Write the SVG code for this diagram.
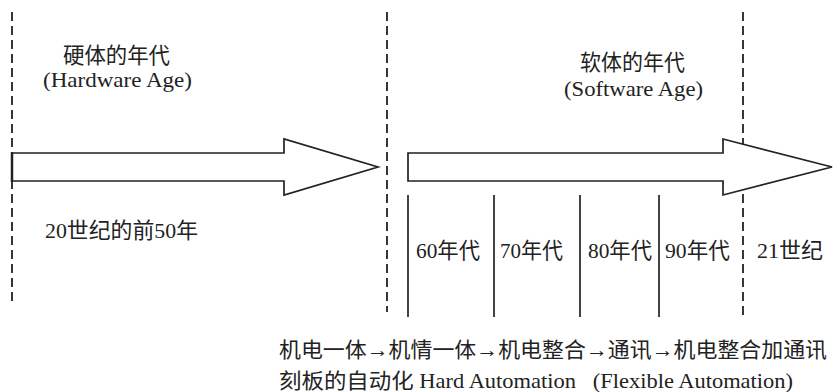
<svg xmlns="http://www.w3.org/2000/svg" width="833" height="392" viewBox="0 0 833 392">
<style>
.dash{stroke:#222;stroke-width:1.8;stroke-dasharray:9 5;fill:none}
.sol{stroke:#222;stroke-width:1.7;fill:none}
.arr{stroke:#222;stroke-width:1.7;fill:#fff;stroke-linejoin:miter}
text{font-family:"Liberation Serif","Noto Sans CJK SC",serif;fill:#222;font-size:22px}
.b{font-size:21px}
</style>
<rect width="833" height="392" fill="#fff"/>
<g id="connectors">
<line class="dash" x1="12" y1="12" x2="12" y2="305"/>
<line class="dash" x1="387" y1="12" x2="387" y2="312"/>
<line class="dash" x1="743" y1="12" x2="743" y2="317"/>
<line class="sol" x1="408" y1="195" x2="408" y2="317"/>
<line class="sol" x1="494" y1="195" x2="494" y2="317"/>
<line class="sol" x1="580" y1="195" x2="580" y2="317"/>
<line class="sol" x1="659" y1="195" x2="659" y2="317"/>
</g>
<g id="arrow-hardware">
<polygon class="arr" points="12,153 284,153 284,139 378,167 284,195 284,181 12,181"/>
<line x1="12" y1="152" x2="12" y2="182" stroke="#222" stroke-width="2.5"/>
</g>
<g id="arrow-software">
<polygon class="arr" points="408,153 723,153 723,139 832,167 723,195 723,181 408,181"/>
</g>
<g id="hardware-label">
<text x="63" y="63" textLength="107" lengthAdjust="spacingAndGlyphs">硬体的年代</text>
<text x="43" y="87" textLength="149" lengthAdjust="spacingAndGlyphs">(Hardware Age)</text>
</g>
<g id="software-label">
<text x="580" y="70" textLength="105" lengthAdjust="spacingAndGlyphs">软体的年代</text>
<text x="564" y="96" textLength="139" lengthAdjust="spacingAndGlyphs">(Software Age)</text>
</g>
<g id="first-half">
<text x="45" y="238" textLength="153" lengthAdjust="spacingAndGlyphs">20世纪的前50年</text>
</g>
<g id="decades">
<text x="416" y="258" textLength="64" lengthAdjust="spacingAndGlyphs">60年代</text>
<text x="500" y="258" textLength="63" lengthAdjust="spacingAndGlyphs">70年代</text>
<text x="588" y="258" textLength="64" lengthAdjust="spacingAndGlyphs">80年代</text>
<text x="665" y="258" textLength="65" lengthAdjust="spacingAndGlyphs">90年代</text>
<text x="757" y="258" textLength="66" lengthAdjust="spacingAndGlyphs">21世纪</text>
</g>
<g id="bottom-text">
<text class="b" x="279" y="357" textLength="548" lengthAdjust="spacingAndGlyphs">机电一体→机情一体→机电整合→通讯→机电整合加通讯</text>
<text class="b" x="279" y="388" textLength="514" lengthAdjust="spacingAndGlyphs" xml:space="preserve">刻板的自动化 Hard Automation   (Flexible Automation)</text>
</g>
</svg>
